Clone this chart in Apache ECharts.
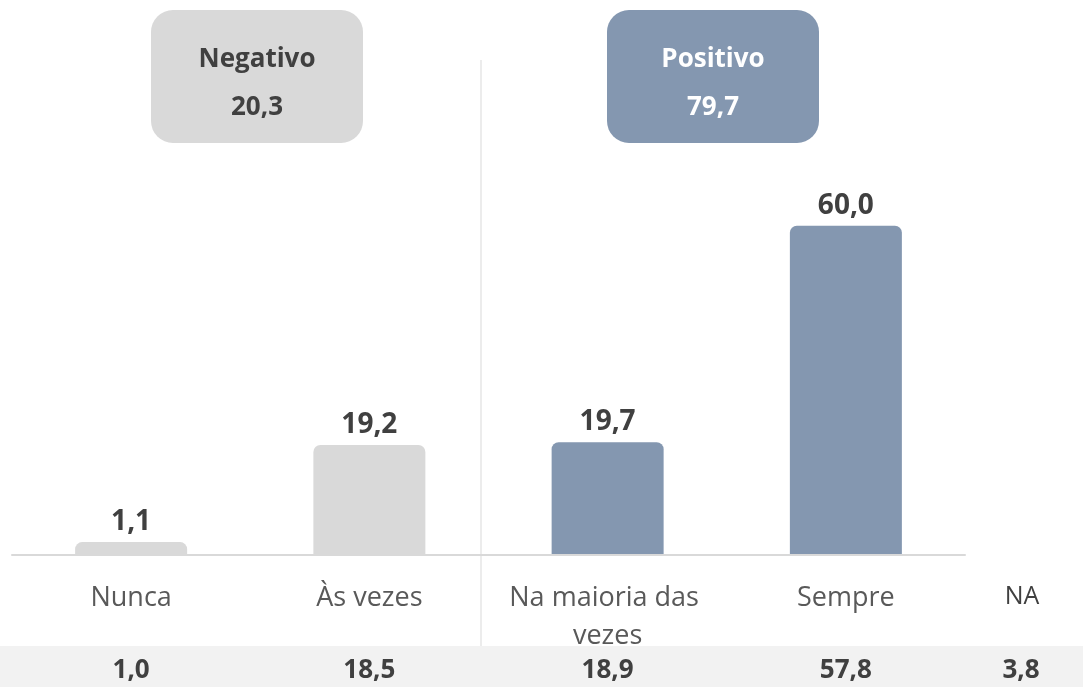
<!DOCTYPE html>
<html>
<head>
<meta charset="utf-8">
<script src="https://cdn.jsdelivr.net/npm/echarts@6/dist/echarts.min.js"></script>
<style>
html,body{margin:0;padding:0;background:#fff;}
#c{width:1083px;height:687px;}
</style>
</head>
<body>
<div id="c"></div>
<script>
const categories = ['Nunca', 'Às vezes', 'Na maioria das vezes', 'Sempre'];
const values = [1.1, 19.2, 19.7, 60.0];
const barColors = ['#d9d9d9', '#d9d9d9', '#8497b0', '#8497b0'];
const bottomLabels = ['1,0', '18,5', '18,9', '57,8'];
const naLabel = 'NA';
const naValue = '3,8';
const groups = [
  {name: 'Negativo', value: '20,3', fill: '#d9d9d9', text: '#404040'},
  {name: 'Positivo', value: '79,7', fill: '#8497b0', text: '#ffffff'}
];

const FONT = '"Open Sans", "Noto Sans", sans-serif';
const Y_MIN = -1.3, Y_MAX = 100;
const fmt = v => v.toFixed(1).replace('.', ',');

const chart = echarts.init(document.getElementById('c'), null, {renderer: 'canvas'});
const option = {
  animation: false,
  backgroundColor: '#ffffff',
  grid: {left: 12, right: 118, top: 11, bottom: 132, containLabel: false},
  xAxis: {
    type: 'category',
    data: categories,
    axisLine: {onZero: false, lineStyle: {color: '#d9d9d9', width: 2}},
    axisTick: {show: false},
    axisLabel: {
      color: '#595959', fontFamily: FONT, fontSize: 27, margin: 24,
      lineHeight: 38, width: 230, overflow: 'break', interval: 0
    },
    z: 5
  },
  yAxis: {
    type: 'value', min: Y_MIN, max: Y_MAX,
    show: false, splitLine: {show: false}
  },
  series: [{
    type: 'custom',
    data: values.map((v, i) => [i, v]),
    encode: {x: 0, y: 1},
    renderItem: (params, api) => {
      const i = api.value(0), v = api.value(1);
      const top = api.coord([i, v]);
      const base = api.coord([i, Y_MIN]);
      const w = 112;
      return {
        type: 'group',
        children: [{
          type: 'rect',
          shape: {x: top[0] - w / 2, y: top[1], width: w, height: base[1] - top[1], r: [7, 7, 0, 0]},
          style: {fill: barColors[i]}
        }, {
          type: 'text',
          x: top[0], y: top[1] - 6,
          style: {text: fmt(v), fill: '#404040', font: 'bold 28px ' + FONT, align: 'center', verticalAlign: 'bottom'}
        }]
      };
    },
    z: 2
  }]
};
chart.setOption(option);

function buildGraphics() {
  const g = [];
  g.push({type: 'rect', shape: {x: 0, y: 646, width: 1083, height: 41}, style: {fill: '#f2f2f2'}, z: 0});
  g.push({type: 'line', shape: {x1: 481, y1: 60, x2: 481, y2: 646}, style: {stroke: '#d9d9d9', lineWidth: 1}, z: 1});
  const boxX = [151, 607];
  groups.forEach((gr, i) => {
    g.push({type: 'rect', shape: {x: boxX[i], y: 10, width: 212, height: 133, r: 22}, style: {fill: gr.fill}, z: 2});
    g.push({type: 'text', x: boxX[i] + 106, y: 60, style: {text: gr.name, fill: gr.text, font: 'bold 26px ' + FONT, align: 'center', verticalAlign: 'middle'}, z: 3});
    g.push({type: 'text', x: boxX[i] + 106, y: 108, style: {text: gr.value, fill: gr.text, font: 'bold 26px ' + FONT, align: 'center', verticalAlign: 'middle'}, z: 3});
  });
  categories.forEach((c, i) => {
    const px = chart.convertToPixel({xAxisIndex: 0}, c);
    g.push({type: 'text', x: px, y: 671, style: {text: bottomLabels[i], fill: '#404040', font: 'bold 26px ' + FONT, align: 'center', verticalAlign: 'middle'}, z: 3});
  });
  g.push({type: 'text', x: 1022, y: 597, style: {text: naLabel, fill: '#404040', font: '25px ' + FONT, align: 'center', verticalAlign: 'middle'}, z: 3});
  g.push({type: 'text', x: 1021, y: 671, style: {text: naValue, fill: '#404040', font: 'bold 26px ' + FONT, align: 'center', verticalAlign: 'middle'}, z: 3});
  return g;
}
chart.setOption({graphic: buildGraphics()});
</script>
</body>
</html>
